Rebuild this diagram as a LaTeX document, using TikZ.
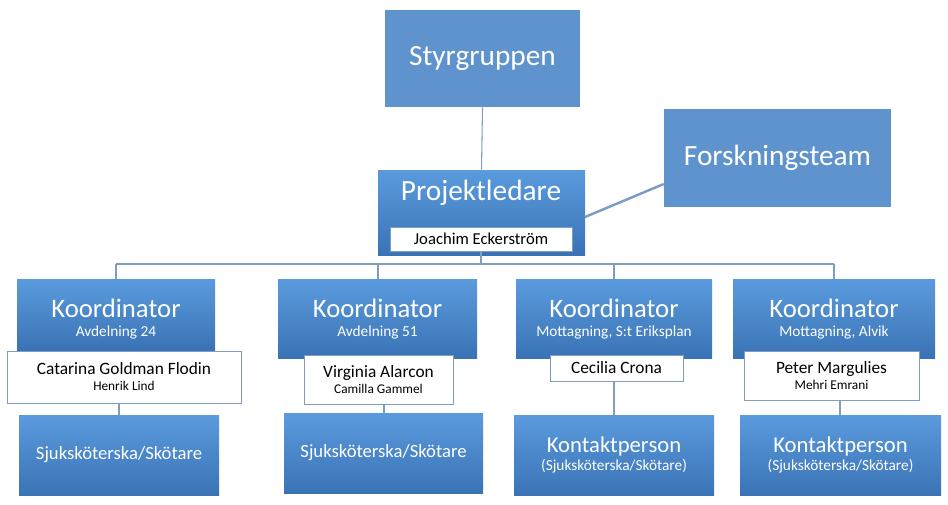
\documentclass[tikz,border=0pt]{standalone}
\usepackage{fontspec}
\setmainfont{Carlito}
\definecolor{bt}{HTML}{5A9BDD}
\definecolor{bb}{HTML}{3A73B5}
\definecolor{flat}{HTML}{5F93CD}
\definecolor{ln}{HTML}{7F9CC2}
\tikzset{
 grad/.style={inner sep=0pt, top color=bt, bottom color=bb, draw=none, text=white, align=center},
 flatb/.style={inner sep=0pt, fill=flat, draw=none, text=white, align=center},
 wbox/.style={inner sep=0pt, fill=white, draw=ln, line width=0.6pt, align=center, text=black},
 conn/.style={draw=ln, line width=0.8pt}
}
\newcommand{\bx}[7]{% style name x1 y1 x2 y2 text
 \node[#1, minimum width={(#5-#3)*0.75pt}, minimum height={(#6-#4)*0.75pt}] (#2) at ({(#3+#5)/2},{(#4+#6)/2}) {#7};}
\begin{document}
\begin{tikzpicture}[x=0.75pt,y=-0.75pt]
\useasboundingbox (0,0) rectangle (948,504);
% top
\bx{flatb}{sty}{385}{10}{580}{107}{\fontsize{22}{26}\selectfont Styrgruppen}
\bx{flatb}{fot}{664}{109}{891}{207}{\fontsize{22}{26}\selectfont Forskningsteam}
\bx{grad}{pl}{378}{170}{585}{255}{}
\node[text=white] at (481,193) {\fontsize{22}{26}\selectfont Projektledare};
\bx{wbox}{je}{390}{227}{572}{251}{\fontsize{12.5}{14}\selectfont Joachim Eckerström}
\draw[conn] (sty.south) -- (pl.north);
\draw[draw=ln!80!flat, line width=1.8pt] (585,217) -- (fot.west |- 0,184);
% coordinators
\bx{grad}{k1}{17}{279}{215}{350}{}
\bx{grad}{k2}{278}{279}{477}{358}{}
\bx{grad}{k3}{516}{279}{712}{358}{}
\bx{grad}{k4}{733}{279}{935}{358}{}
\foreach \k/\s in {k1/Avdelning 24,k2/Avdelning 51,k3/{Mottagning, S:t Eriksplan},k4/{Mottagning, Alvik}}{
 \node[text=white] at ([yshift=-22.5pt]\k.north) {\fontsize{20}{24}\selectfont Koordinator};
 \node[text=white] at ([yshift=-40pt]\k.north) {\fontsize{11.5}{14}\selectfont \s};
}
\bx{wbox}{n1}{7}{351}{241}{403}{\fontsize{13}{15.5}\selectfont Catarina Goldman Flodin\\Henrik Lind}
\bx{wbox}{n2}{304}{355}{453}{404}{\fontsize{13}{15.5}\selectfont Virginia Alarcon\\Camilla Gammel}
\bx{wbox}{n3}{550}{355}{683}{381}{\fontsize{13}{15.5}\selectfont Cecilia Crona}
\bx{wbox}{n4}{744}{351}{919}{400}{\fontsize{13}{15.5}\selectfont Peter Margulies\\Mehri Emrani}
\bx{grad}{s1}{19}{415}{219}{495}{\fontsize{14}{17}\selectfont Sjuksköterska/Skötare}
\bx{grad}{s2}{284}{413}{483}{493}{\fontsize{14}{17}\selectfont Sjuksköterska/Skötare}
\bx{grad}{s3}{514}{415}{714}{495}{\fontsize{17}{20}\selectfont Kontaktperson\\[2pt]\fontsize{11.5}{14}\selectfont (Sjuksköterska/Skötare)}
\bx{grad}{s4}{740}{415}{941}{495}{\fontsize{17}{20}\selectfont Kontaktperson\\[2pt]\fontsize{11.5}{14}\selectfont (Sjuksköterska/Skötare)}
% connectors
\coordinate (bus) at (481,264);
\draw[conn] (je.south) -- (bus);
\draw[conn] (116,264) -- (834,264);
\draw[conn] (116,264) -- (116,279);
\draw[conn] (378,264) -- (378,279);
\draw[conn] (614,264) -- (614,279);
\draw[conn] (834,264) -- (834,279);
\draw[conn] (n1.south -| 119,0) -- (119,415);
\draw[conn] (n2.south -| 384,0) -- (384,413);
\draw[conn] (n3.south -| 614,0) -- (614,415);
\draw[conn] (n4.south -| 840,0) -- (840,415);
\end{tikzpicture}
\end{document}
